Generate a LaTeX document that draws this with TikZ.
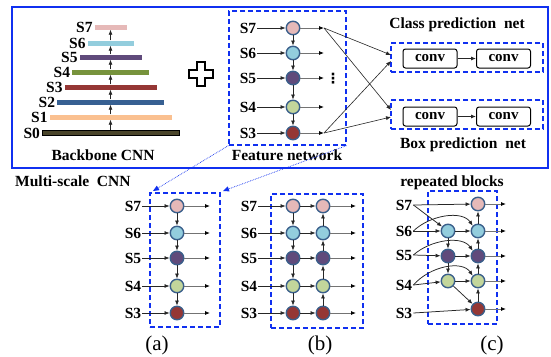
\documentclass[tikz,border=0pt]{standalone}
\usepackage{fontspec}
\setmainfont{Liberation Serif}
\newfontfamily\dejavu{DejaVu Sans}
\usetikzlibrary{arrows.meta}
\definecolor{pinkc}{HTML}{E6B9B8}
\definecolor{lbluec}{HTML}{93CDDD}
\definecolor{purplec}{HTML}{604A7B}
\definecolor{greenc}{HTML}{77933C}
\definecolor{lgreenc}{HTML}{C3D69B}
\definecolor{redc}{HTML}{953735}
\definecolor{bluec}{HTML}{376092}
\definecolor{peachc}{HTML}{FAC090}
\definecolor{darkc}{HTML}{4A452A}
\definecolor{bordc}{HTML}{3A5F8B}
\definecolor{framec}{HTML}{1030F0}
\begin{document}
\begin{tikzpicture}[x=1pt,y=-1pt,
  lab/.style={font=\bfseries\fontsize{15.5}{15.5}\selectfont, inner sep=1pt},
  ttl/.style={font=\bfseries\fontsize{15.5}{16}\selectfont, inner sep=0pt},
  capt/.style={font=\fontsize{21}{21}\selectfont, inner sep=0pt},
  bar/.style={rectangle, minimum height=5pt, inner sep=0pt, line width=0.4pt},
  cir/.style={circle, draw=bordc, line width=1.4pt, minimum size=13.5pt, inner sep=0pt},
  ar/.style={-{Latex[length=5pt,width=4pt]}, line width=0.75pt, draw=black!85},
  arg/.style={-{Latex[length=5pt,width=4pt,color=black]}, line width=0.85pt, draw=black!55},
  dbox/.style={draw=framec, dashed, dash pattern=on 5pt off 3pt, line width=1.2pt, inner sep=0pt},
  frame/.style={draw=framec, line width=1.4pt},
  convb/.style={draw, rounded corners=2.5pt, line width=1pt, minimum width=54pt, minimum height=19pt, inner sep=0pt, font=\bfseries\fontsize{15}{15}\selectfont},
  dotar/.style={draw=framec, densely dotted, line width=0.7pt, -{Triangle[length=6pt,width=5pt]}}
]
\useasboundingbox (0,0) rectangle (551,356);
\fill[white] (0,0) rectangle (551,356);
\draw[frame] (12,7) rectangle (548,168);

% ---------- Backbone ----------
\node[bar, minimum width=137pt, fill=darkc, draw=black, line width=0.8pt] (b0) at (110.5,133) {};
\node[bar, minimum width=122pt, fill=peachc] (b1) at (110.5,117) {};
\node[bar, minimum width=107pt, fill=bluec] (b2) at (110.5,102) {};
\node[bar, minimum width=92pt, fill=redc] (b3) at (110.5,87) {};
\node[bar, minimum width=77pt, fill=greenc] (b4) at (110.5,72) {};
\node[bar, minimum width=62pt, fill=purplec] (b5) at (110.5,57) {};
\node[bar, minimum width=46pt, fill=lbluec] (b6) at (110.5,43) {};
\node[bar, minimum width=32pt, fill=pinkc] (b7) at (110.5,27) {};
\foreach \i in {0,...,7}{
  \node[lab, anchor=east] (bl\i) at ([xshift=-0.5pt]b\i.west) {S\i};
}
\foreach \i/\j in {0/1,1/2,2/3,3/4,4/5,5/6,6/7}{
  \draw[ar] (b\i) -- (b\j);
}
\node[ttl] (bbt) at (103,155) {Backbone CNN};

% ---------- plus ----------
\draw[line width=1.4pt, fill=white] (197,62) -- (205,62) -- (205,70) -- (213,70) -- (213,78) -- (205,78) -- (205,86) -- (197,86) -- (197,78) -- (189,78) -- (189,70) -- (197,70) -- cycle;

% ---------- Feature network ----------
\node[dbox, minimum width=117pt, minimum height=134pt] (fnet) at (287.5,78) {};
\foreach \i/\y/\c in {7/28/pinkc,6/53/lbluec,5/78/purplec,4/107/lgreenc,3/133/redc}{
  \node[lab] (fl\i) at (248,\y) {S\i};
  \node[cir, fill=\c] (f\i) at (293,\y) {};
  \coordinate (fo\i) at (324,\y);
  \draw[ar] (fl\i) -- (f\i);
  \draw[arg] (f\i) -- (fo\i);
}
\foreach \i/\j in {7/6,6/5,5/4,4/3}{ \draw[ar] (f\i) -- (f\j); }
\node[font=\dejavu\bfseries\fontsize{14}{14}\selectfont, inner sep=0pt] (fdots) at (333,79) {⋮};
\node[ttl] (fnt) at (287,155) {Feature network};

% ---------- prediction nets ----------
\node[ttl] (cpt) at (457,25) {Class prediction\ \ net};
\node[dbox, minimum width=152pt, minimum height=29pt] (cnet) at (467,57.5) {};
\node[convb] (cc1) at (430,58.5) {conv};
\node[convb] (cc2) at (503.5,58.5) {conv};
\draw[ar] (cc1) -- (cc2);
\node[dbox, minimum width=152pt, minimum height=29pt] (bnet) at (467,114.5) {};
\node[convb] (bc1) at (430,116.5) {conv};
\node[convb] (bc2) at (503.5,116.5) {conv};
\draw[ar] (bc1) -- (bc2);
\node[ttl] (bpt) at (463,145) {Box prediction\ \ net};
\coordinate (ca) at (391,55);
\coordinate (cb) at (391,61);
\coordinate (ba) at (391,110);
\coordinate (bb) at (391,117);
\draw[ar, line width=0.6pt] (fo7) -- (ca);
\draw[ar, line width=0.6pt] (fo7) -- (ba);
\draw[ar, line width=0.6pt] (fo3) -- (cb);
\draw[ar, line width=0.6pt] (fo3) -- (bb);

% ---------- Multi-scale ----------
\node[ttl, anchor=west] (mst) at (15,181) {Multi-scale\ \ CNN};

% ---------- panel (a) ----------
\node[dbox, minimum width=70pt, minimum height=134pt] (pa) at (185,260) {};
\coordinate (atl) at (153,191);
\coordinate (atr) at (223,191);
\draw[dotar] (fnet.south west) -- (atl);
\draw[dotar] (fnet.south east) -- (atr);
\foreach \i/\y/\c in {7/206/pinkc,6/233/lbluec,5/258/purplec,4/286/lgreenc,3/313/redc}{
  \node[lab] (al\i) at (133,\y) {S\i};
  \node[cir, fill=\c] (a\i) at (177,\y) {};
  \coordinate (ao\i) at (210,\y);
  \draw[ar] (al\i) -- (a\i);
  \draw[arg] (a\i) -- (ao\i);
}
\foreach \i/\j in {7/6,6/5,5/4,4/3}{ \draw[ar] (a\i) -- (a\j); }
\node[capt] (capa) at (157,345) {(a)};

% ---------- panel (b) ----------
\node[dbox, minimum width=92pt, minimum height=134pt] (pb) at (317,261) {};
\foreach \i/\y/\c in {7/206/pinkc,6/233/lbluec,5/258/purplec,4/286/lgreenc,3/313/redc}{
  \node[lab] (bbl\i) at (249,\y) {S\i};
  \node[cir, fill=\c] (p\i) at (293,\y) {};
  \node[cir, fill=\c] (q\i) at (323,\y) {};
  \coordinate (qo\i) at (356,\y);
  \draw[ar] (bbl\i) -- (p\i);
  \draw[ar] (p\i) -- (q\i);
  \draw[arg] (q\i) -- (qo\i);
}
\foreach \i/\j in {7/6,6/5,5/4,4/3}{ \draw[ar] (p\i) -- (p\j); \draw[ar] (q\j) -- (q\i); }
\node[capt] (capb) at (320,345) {(b)};

% ---------- panel (c) ----------
\node[ttl] (rbt) at (452,183) {repeated blocks};
\node[dbox, minimum width=69pt, minimum height=133pt] (pc) at (462.5,257.5) {};
\node[lab] (cl7) at (404,205) {S7};
\node[lab] (cl6) at (404,231) {S6};
\node[lab] (cl5) at (404,255) {S5};
\node[lab] (cl4) at (404,285) {S4};
\node[lab] (cl3) at (404,313) {S3};
\node[cir, fill=lbluec] (c16) at (448,231) {};
\node[cir, fill=purplec] (c15) at (448,256) {};
\node[cir, fill=lgreenc] (c14) at (448,281) {};
\node[cir, fill=pinkc] (c27) at (478,204) {};
\node[cir, fill=lbluec] (c26) at (478,231) {};
\node[cir, fill=purplec] (c25) at (478,256) {};
\node[cir, fill=lgreenc] (c24) at (478,281) {};
\node[cir, fill=redc] (c23) at (478,309) {};
\draw[ar] (cl7.east) -- (c27);
\draw[ar] (cl7.east) -- (c16);
\draw[ar] (cl6.east) -- (c16);
\draw[ar] (cl5.east) -- (c15);
\draw[ar] (cl4.east) -- (c14);
\draw[ar] (cl3.east) -- (c23);
\draw[ar] (cl6.east) .. controls (430,215) and (462,210) .. (c26.north west);
\draw[ar] (cl5.east) .. controls (430,240) and (462,235) .. (c25.north west);
\draw[ar] (cl4.east) .. controls (430,266) and (462,260) .. (c24.north west);
\draw[ar] (c16) -- (c15);
\draw[ar] (c15) -- (c14);
\draw[ar] (c14) -- (c23);
\draw[ar] (c16) -- (c26);
\draw[ar] (c15) -- (c25);
\draw[ar] (c14) -- (c24);
\draw[ar] (c23) -- (c24);
\draw[ar] (c24) -- (c25);
\draw[ar] (c25) -- (c26);
\draw[ar] (c26) -- (c27);
\foreach \i/\y in {7/204,6/231,5/256,4/281,3/309}{
  \coordinate (co\i) at (506,\y);
  \draw[arg] (c2\i) -- (co\i);
}
\node[capt] (capc) at (492,345) {(c)};
\end{tikzpicture}
\end{document}
